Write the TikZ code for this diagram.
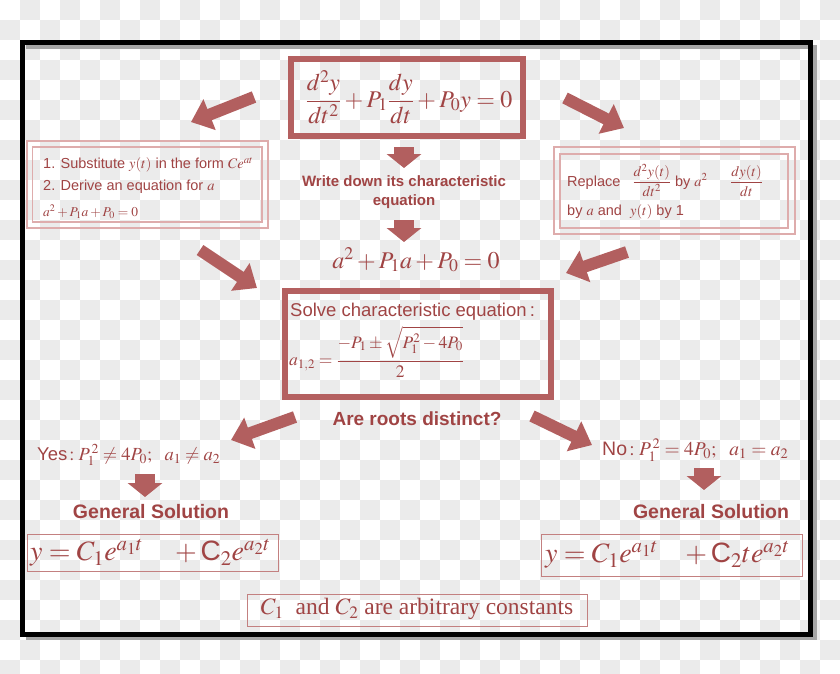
\documentclass[tikz,border=0pt]{standalone}
\usepackage{mathptmx}
\usepackage[no-math]{fontspec}
\setmainfont{Liberation Sans}
\newfontfamily\serifft{Liberation Serif}
\usetikzlibrary{arrows.meta}
\definecolor{tred}{RGB}{160,68,68}
\definecolor{ared}{RGB}{178,95,95}
\definecolor{bred}{RGB}{180,96,96}
\definecolor{lpink}{RGB}{222,172,172}
\definecolor{chk}{RGB}{235,235,235}
\tikzset{
  lbl/.style={text=tred, inner sep=0pt},
  thickbox/.style={draw=bred, line width=6pt},
  thinbox/.style={draw=bred!80, line width=1pt},
  lightbox/.style={draw=lpink, line width=1.6pt},
  diagarrow/.style={draw=ared, line width=12pt, -{Triangle[length=20pt,width=32pt]}},
  downarrow/.style={draw=ared, line width=20pt, -{Triangle[length=14pt,width=34pt]}},
}
\begin{document}
\begin{tikzpicture}[x=1pt,y=-1pt]
\useasboundingbox (0,0) rectangle (840,673);
% checkerboard background
\fill[white] (0,0) rectangle (840,673);
\foreach \i in {0,2,...,42}{
  \foreach \j in {0,2,...,34}{
    \fill[chk] (\i*20+20,\j*20) rectangle ++(20,20);
    \fill[chk] (\i*20,\j*20+20) rectangle ++(20,20);
  }
}
% frame with shadow
\draw[black!35, line width=4pt] (26,47) -- (815,47) -- (815,638) -- (26,638);
\draw[black, line width=5pt] (22.5,42.5) rectangle (810.5,634);

% top ODE box
\draw[thickbox] (291,59) rectangle (523,136);
\node[lbl, font=\fontsize{24}{28}\selectfont] (ode) at (409,97)
  {$\displaystyle \frac{d^2y}{dt^2}+P_1\frac{dy}{dt}+P_0y=0$};

% write down text
\node[lbl, font=\bfseries\fontsize{15}{19}\selectfont, align=center] (write) at (404,192)
  {Write down its characteristic\\equation};

% characteristic equation
\node[lbl, font=\fontsize{24}{28}\selectfont] (chareq) at (416,260) {$a^2+P_1a+P_0=0$};

% left step box
\draw[lightbox] (27,141) rectangle (268,228);
\draw[lightbox] (32.5,147) rectangle (262,222);
\node[lbl, anchor=west, font=\fontsize{14.5}{17}\selectfont] (s1) at (43,165) {1. Substitute $y(t)$ in the form $Ce^{at}$};
\node[lbl, anchor=west, font=\fontsize{14.5}{17}\selectfont] (s2) at (43,187) {2. Derive an equation for $a$};
\node[lbl, anchor=west, font=\fontsize{13.5}{16}\selectfont] (s3) at (43,212) {$a^2+P_1a+P_0=0$};

% right step box
\draw[lightbox] (554,147) rectangle (795,234);
\draw[lightbox] (560,154) rectangle (788,228);
\node[lbl, anchor=west, font=\fontsize{14.5}{17}\selectfont] (r1) at (567,180)
  {Replace\ \ \ $\displaystyle\frac{d^2y(t)}{dt^2}$ by $a^2$\quad\ \ $\displaystyle\frac{dy(t)}{dt}$};
\node[lbl, anchor=west, font=\fontsize{14.5}{17}\selectfont] (r2) at (567,212) {by $a$ and\ \ $y(t)$ by 1};

% solve box
\draw[thickbox] (285,291) rectangle (551,397);
\node[lbl, anchor=west, font=\fontsize{18.5}{22}\selectfont] (solve) at (290,312) {Solve characteristic equation\,:};
\node[lbl, anchor=west, font=\fontsize{17.5}{21}\selectfont] (roots) at (289,352)
  {$\displaystyle a_{1,2}=\frac{-P_1\pm\sqrt{P_1^2-4P_0}}{2}$};

% distinct question
\node[lbl, font=\bfseries\fontsize{19}{22}\selectfont] (distinct) at (417,419) {Are roots distinct?};

% yes / no
\node[lbl, anchor=west, font=\fontsize{18.5}{22}\selectfont] (yes) at (37,455) {Yes$\,:P_1^{\,2}\neq4P_0;\ \ a_1\neq a_2$};
\node[lbl, anchor=west, font=\fontsize{19.5}{22}\selectfont] (no) at (602,450) {No$\,:P_1^{\,2}=4P_0;\ \ a_1=a_2$};

% general solution labels
\node[lbl, font=\bfseries\fontsize{19.5}{22}\selectfont] (genl) at (151,512) {General Solution};
\node[lbl, font=\bfseries\fontsize{19.5}{22}\selectfont] (genr) at (711,512) {General Solution};

% solution boxes
\draw[thinbox] (27,534) rectangle (278,571);
\node[lbl, anchor=west, font=\fontsize{28}{32}\selectfont] (soll) at (30,553)
  {$y=C_1e^{a_1t}\quad+\mbox{C}_2e^{a_2t}$};
\draw[thinbox] (541,534) rectangle (802,576);
\node[lbl, anchor=west, font=\fontsize{28}{32}\selectfont] (solr) at (545,555)
  {$y=C_1e^{a_1t}\ \ \ +\mbox{C}_2te^{a_2t}$};

% constants box
\draw[thinbox] (247,594) rectangle (587,626);
\node[lbl, font=\serifft\fontsize{23.5}{26}\selectfont] (const) at (417,609)
  {$C_1$\ \ and $C_2$ are arbitrary constants};

% arrow end points
\coordinate (a1s) at (254,97);  \coordinate (a1e) at (191,122);
\coordinate (a2s) at (565,98);  \coordinate (a2e) at (624,128);
\coordinate (a3s) at (200,250); \coordinate (a3e) at (257,288);
\coordinate (a4s) at (627,252); \coordinate (a4e) at (566,273);
\coordinate (a5s) at (295,417); \coordinate (a5e) at (231,440);
\coordinate (a6s) at (532,416); \coordinate (a6e) at (592,445);
\coordinate (d1s) at (404,147); \coordinate (d1e) at (404,168);
\coordinate (d2s) at (404,220); \coordinate (d2e) at (404,242);
\coordinate (d3s) at (145,474); \coordinate (d3e) at (145,497);
\coordinate (d4s) at (704,468); \coordinate (d4e) at (704,490);

\draw[diagarrow] (a1s) -- (a1e);
\draw[diagarrow] (a2s) -- (a2e);
\draw[diagarrow] (a3s) -- (a3e);
\draw[diagarrow] (a4s) -- (a4e);
\draw[diagarrow] (a5s) -- (a5e);
\draw[diagarrow] (a6s) -- (a6e);
\draw[downarrow] (d1s) -- (d1e);
\draw[downarrow] (d2s) -- (d2e);
\draw[downarrow] (d3s) -- (d3e);
\draw[downarrow] (d4s) -- (d4e);
\end{tikzpicture}
\end{document}
